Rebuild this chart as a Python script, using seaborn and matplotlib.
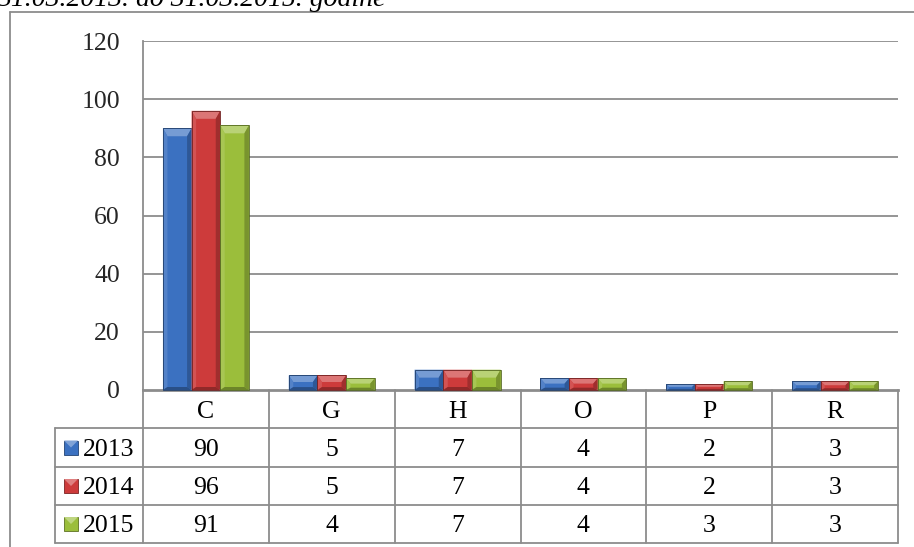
import numpy as np
import pandas as pd
import matplotlib
matplotlib.use("Agg")
import matplotlib.pyplot as plt
from matplotlib.lines import Line2D
from matplotlib.patches import Polygon, Rectangle
from matplotlib.transforms import IdentityTransform
import matplotlib.colors as mcolors
import seaborn as sns

# ---- data ----
categories = ["C", "G", "H", "O", "P", "R"]
years = ["2013", "2014", "2015"]
vals_2013 = [90, 5, 7, 4, 2, 3]
vals_2014 = [96, 5, 7, 4, 2, 3]
vals_2015 = [91, 4, 7, 4, 3, 3]
y_ticks = [0, 20, 40, 60, 80, 100, 120]
title_text = "31.03.2013. do 31.03.2015. godine"

colors = ["#3B71C1", "#CD3B3B", "#9BBE3B"]

df = pd.DataFrame({
    "cat": categories * 3,
    "year": sum([[y] * len(categories) for y in years], []),
    "val": vals_2013 + vals_2014 + vals_2015,
})

sns.set_theme(style="white")
plt.rcParams["font.family"] = ["Liberation Serif", "DejaVu Serif"]

W, H = 914, 547
fig = plt.figure(figsize=(W / 100, H / 100), dpi=100)

def fx(px):
    return px / W

def fy(py):
    return 1 - py / H

ax_left, ax_right, ax_top, ax_bot = 143, 898, 41, 390
ax = fig.add_axes([fx(ax_left), fy(ax_bot), fx(ax_right - ax_left), (ax_bot - ax_top) / H])

sns.barplot(data=df, x="cat", y="val", hue="year", palette=colors, width=0.683,
            gap=0, ax=ax, legend=False, saturation=1, linewidth=0,
            order=categories, hue_order=years, zorder=3)

ax.set_ylim(0, 120)
ax.set_xlim(-0.5, len(categories) - 0.5)
ax.set_yticks(y_ticks)
ax.set_yticklabels([str(t) for t in y_ticks], fontsize=18.5)
ax.tick_params(axis="y", length=0, pad=16.5)
ax.set_xticks([])
ax.set_xlabel("")
ax.set_ylabel("")
grid_c = "#8C8C8C"
for t in y_ticks[1:]:
    ax.axhline(t, color=grid_c, lw=1.3, zorder=1)
for s in ["top", "right"]:
    ax.spines[s].set_visible(False)
ax.spines["left"].set_color(grid_c)
ax.spines["left"].set_linewidth(1.3)
ax.spines["bottom"].set_color(grid_c)
ax.spines["bottom"].set_linewidth(2.0)
ax.spines["bottom"].set_zorder(5)

# ---- bevel effect on bars ----
fig.canvas.draw()

def shade(c, f):
    r, g, b = mcolors.to_rgb(c)
    if f >= 0:
        return (r + (1 - r) * f, g + (1 - g) * f, b + (1 - b) * f)
    return (r * (1 + f), g * (1 + f), b * (1 + f))

for p in ax.patches:
    bb = p.get_window_extent()
    x0, y0, x1, y1 = bb.x0, bb.y0, bb.x1, bb.y1
    w, h = x1 - x0, y1 - y0
    if h <= 0:
        continue
    c = p.get_facecolor()
    dt = min(8, h * 0.45)
    ds = min(4.5, w * 0.16, dt)
    db = min(3, h * 0.2)
    polys = [
        ([(x0, y1), (x1, y1), (x1 - ds, y1 - dt), (x0 + ds, y1 - dt)], shade(c, 0.3)),
        ([(x0, y1), (x0 + ds, y1 - dt), (x0 + ds, y0 + db), (x0, y0)], shade(c, 0.12)),
        ([(x1, y1), (x1 - ds, y1 - dt), (x1 - ds, y0 + db), (x1, y0)], shade(c, -0.22)),
        ([(x0, y0), (x0 + ds, y0 + db), (x1 - ds, y0 + db), (x1, y0)], shade(c, -0.3)),
    ]
    for pts, col in polys:
        fig.add_artist(Polygon(pts, closed=True, facecolor=col, edgecolor="none",
                               transform=IdentityTransform(), zorder=4))
    fig.add_artist(Rectangle((x0, y0), w, h, facecolor="none",
                             edgecolor=shade(c, -0.45), lw=0.6,
                             transform=IdentityTransform(), zorder=4))

# ---- data table below ----
row_h = [390, 428, 467, 505, 543]
lab_left = 55
col_edges = [ax_left + i * (ax_right - ax_left) / len(categories) for i in range(len(categories) + 1)]

def hline(y, xa, xb, lw=1.3):
    fig.add_artist(Line2D([fx(xa), fx(xb)], [fy(y), fy(y)], color=grid_c, lw=lw,
                          transform=fig.transFigure, zorder=2))

def vline(x, ya, yb, lw=1.3):
    fig.add_artist(Line2D([fx(x), fx(x)], [fy(ya), fy(yb)], color=grid_c, lw=lw,
                          transform=fig.transFigure, zorder=2))

for y in row_h[1:]:
    hline(y, lab_left, ax_right)
for x in col_edges:
    vline(x, row_h[0], row_h[-1])
vline(lab_left, row_h[1], row_h[-1])

fs = 18.5
for i, cat in enumerate(categories):
    cx = ax.transData.transform((i, 0))[0]
    fig.text(cx / W, fy((row_h[0] + row_h[1]) / 2), cat, ha="center", va="center_baseline",
             fontsize=fs, color="black")
    for r, vals in enumerate([vals_2013, vals_2014, vals_2015]):
        fig.text(cx / W, fy((row_h[r + 1] + row_h[r + 2]) / 2), str(vals[i]),
                 ha="center", va="center_baseline", fontsize=fs, color="black")

for r, (yr, col) in enumerate(zip(years, colors)):
    yc = (row_h[r + 1] + row_h[r + 2]) / 2
    kx0, ks = 64, 14
    ky0 = H - (yc + ks / 2)
    fig.add_artist(Rectangle((kx0, ky0), ks, ks, facecolor=col, edgecolor=shade(col, -0.4),
                             lw=0.6, transform=IdentityTransform(), zorder=4))
    fig.add_artist(Polygon([(kx0, ky0 + ks), (kx0 + ks, ky0 + ks), (kx0 + ks / 2, ky0 + ks / 2)],
                           facecolor=shade(col, 0.35), edgecolor="none",
                           transform=IdentityTransform(), zorder=4))
    fig.text(fx(83), fy(yc), yr, ha="left", va="center_baseline", fontsize=fs, color="black")

# ---- outer frame and title ----
fig.add_artist(Line2D([fx(10), fx(10)], [fy(12), 0], color=grid_c, lw=1.3, transform=fig.transFigure))
fig.add_artist(Line2D([fx(10), 1], [fy(12), fy(12)], color=grid_c, lw=1.3, transform=fig.transFigure))
fig.text(fx(-3), fy(6), title_text, ha="left", va="baseline", fontsize=20,
         style="italic", color="black")

fig.savefig("out.png", dpi=100, facecolor="white")
